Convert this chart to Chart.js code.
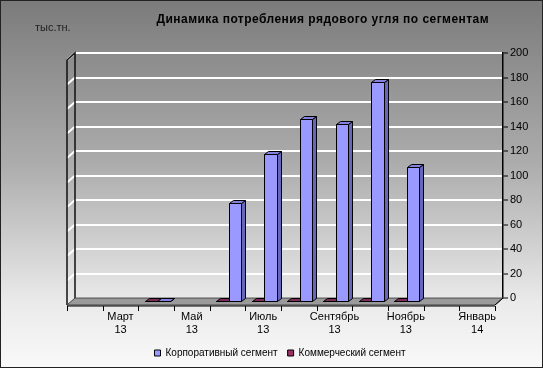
<!DOCTYPE html>
<html>
<head>
<meta charset="utf-8">
<script src="https://cdn.jsdelivr.net/npm/chart.js@4.4.1/dist/chart.umd.min.js"></script>
<style>
  html, body { margin: 0; padding: 0; background: #fff; }
  #wrap { width: 543px; height: 368px; }
</style>
</head>
<body>
<div id="wrap"><canvas id="chart"></canvas></div>
<script>
const months = [
  'Февраль 13', 'Март 13', 'Апрель 13', 'Май 13', 'Июнь 13', 'Июль 13',
  'Август 13', 'Сентябрь 13', 'Октябрь 13', 'Ноябрь 13', 'Декабрь 13', 'Январь 14',
];
const corporate = [null, null, 0.8, null, 81, 121, 149, 145, 180, 110, null, null];
const commercial = [null, null, 0.5, null, 0.5, 0.5, 0.5, 0.5, 0.5, 0.5, null, null];
const yTicks = { min: 0, max: 200, step: 20 };

const chartTitle = 'Динамика потребления рядового угля по сегментам';
const unitLabel = 'тыс.тн.';

// wall depth, bar depth and bar position inside the depth (fake 3d look)
const DX = 8, DY = 7;
const BX = 4, BY = 3;
const OX = -7, OY = 4;

const faces = [
  { front: '#993366', side: '#6a2346', top: '#7e2b55' },
  { front: '#9999ff', side: '#6767b9', top: '#8282de' },
];

const background = {
  id: 'background',
  beforeDraw(chart) {
    const { ctx, width, height } = chart;
    const g = ctx.createLinearGradient(0, 0, 0, height);
    g.addColorStop(0, '#7b7b7b');
    g.addColorStop(0.45, '#adadad');
    g.addColorStop(0.82, '#eaeaea');
    g.addColorStop(1, '#f9f9f9');
    ctx.save();
    ctx.fillStyle = g;
    ctx.fillRect(0, 0, width, height);
    ctx.restore();
  },
  afterDraw(chart) {
    const { ctx, width, height } = chart;
    ctx.save();
    ctx.strokeStyle = '#222';
    ctx.lineWidth = 1;
    ctx.strokeRect(0.5, 0.5, width - 1, height - 1);
    ctx.fillStyle = '#000';
    ctx.font = 'bold 12px "Liberation Sans", Arial, sans-serif';
    ctx.letterSpacing = '0.45px';
    ctx.textAlign = 'right';
    ctx.textBaseline = 'middle';
    ctx.fillText(chartTitle, 489, 20);
    ctx.letterSpacing = '0px';
    ctx.font = '11px "Liberation Sans", Arial, sans-serif';
    ctx.textAlign = 'left';
    ctx.fillStyle = '#222';
    ctx.fillText(unitLabel, 35, 28);
    ctx.restore();
  },
};

const frame3d = {
  id: 'frame3d',
  beforeDatasetsDraw(chart) {
    const { ctx, chartArea: ca } = chart;
    const xs = chart.scales.x;
    const ys = chart.scales.y;
    ctx.save();

    // side wall grid lines
    ctx.strokeStyle = '#ffffff';
    ctx.lineWidth = 2;
    for (let v = yTicks.min + yTicks.step; v <= yTicks.max; v += yTicks.step) {
      const y = ys.getPixelForValue(v);
      ctx.beginPath();
      ctx.moveTo(ca.left, y);
      ctx.lineTo(ca.left - DX, y + DY);
      ctx.stroke();
    }

    // side wall edges
    ctx.lineWidth = 1.5;
    ctx.strokeStyle = '#111';
    ctx.beginPath();
    ctx.moveTo(ca.left, ca.bottom);
    ctx.lineTo(ca.left, ca.top);
    ctx.lineTo(ca.left - DX, ca.top + DY);
    ctx.lineTo(ca.left - DX, ca.bottom + DY);
    ctx.stroke();

    // floor
    ctx.beginPath();
    ctx.moveTo(ca.left, ca.bottom);
    ctx.lineTo(ca.right, ca.bottom);
    ctx.lineTo(ca.right - DX, ca.bottom + DY);
    ctx.lineTo(ca.left - DX, ca.bottom + DY);
    ctx.closePath();
    ctx.fillStyle = '#9a9a9a';
    ctx.fill();
    ctx.lineWidth = 1;
    ctx.strokeStyle = '#444';
    ctx.stroke();

    // front axis line with category ticks
    const n = months.length;
    const w = xs.width / n;
    const fy = ca.bottom + DY + 1;
    ctx.strokeStyle = '#000';
    ctx.beginPath();
    ctx.moveTo(ca.left - DX, fy);
    ctx.lineTo(ca.right - DX, fy);
    for (let i = 0; i <= n; i++) {
      const x = Math.round(xs.getPixelForValue(0) - w / 2 + i * w - DX) + 0.5;
      ctx.moveTo(x, fy);
      ctx.lineTo(x, fy + 5);
    }
    ctx.moveTo(ca.right, ca.bottom);
    ctx.lineTo(ca.right - DX, ca.bottom + DY);
    ctx.stroke();
    ctx.restore();
  },
  // bars are painted below as boxes, so skip the flat ones
  beforeDatasetDraw() {
    return false;
  },
  afterDatasetsDraw(chart) {
    const { ctx } = chart;
    const metas = [chart.getDatasetMeta(0), chart.getDatasetMeta(1)];
    ctx.save();
    ctx.lineWidth = 1;
    ctx.strokeStyle = '#000';
    ctx.lineJoin = 'round';
    const poly = (pts, fill) => {
      ctx.beginPath();
      ctx.moveTo(pts[0][0], pts[0][1]);
      for (let k = 1; k < pts.length; k++) ctx.lineTo(pts[k][0], pts[k][1]);
      ctx.closePath();
      ctx.fillStyle = fill;
      ctx.fill();
      ctx.stroke();
    };
    for (let i = 0; i < months.length; i++) {
      metas.forEach((meta, d) => {
        const raw = chart.data.datasets[d].data[i];
        if (raw === null) return;
        const el = meta.data[i];
        const p = el.getProps(['x', 'y', 'base', 'width'], true);
        const l = Math.round(p.x - p.width / 2 + OX) + 0.5;
        const r = Math.round(p.x + p.width / 2 + OX) + 0.5;
        const y = Math.round(p.y + OY) + 0.5;
        const base = Math.round(p.base + OY) + 0.5;
        const c = faces[d];
        poly([[r, y], [r + BX, y - BY], [r + BX, base - BY], [r, base]], c.side);
        poly([[l, y], [l + BX, y - BY], [r + BX, y - BY], [r, y]], c.top);
        poly([[l, y], [r, y], [r, base], [l, base]], c.front);
      });
    }
    ctx.restore();
  },
};

new Chart(document.getElementById('chart'), {
  type: 'bar',
  data: {
    labels: months,
    datasets: [
      {
        label: 'Коммерческий сегмент',
        data: commercial,
        backgroundColor: faces[0].front,
        borderColor: '#000',
        borderWidth: 1,
      },
      {
        label: 'Корпоративный сегмент',
        data: corporate,
        backgroundColor: faces[1].front,
        borderColor: '#000',
        borderWidth: 1,
      },
    ],
  },
  options: {
    responsive: true,
    maintainAspectRatio: false,
    animation: false,
    layout: { padding: { left: 25, right: 8, top: 53, bottom: 0 } },
    datasets: { bar: { categoryPercentage: 0.7, barPercentage: 1 } },
    scales: {
      x: {
        grid: { display: false },
        border: { display: false },
        ticks: {
          autoSkip: false,
          maxRotation: 0,
          labelOffset: -DX,
          padding: 4,
          color: '#000',
          font: { family: '"Liberation Sans", Arial, sans-serif', size: 11 },
          callback: (value, index) => (index % 2 === 1 ? months[index].split(' ') : ''),
        },
        afterFit: (scale) => { scale.height = 40; },
      },
      y: {
        position: 'right',
        min: yTicks.min,
        max: yTicks.max,
        grid: { color: '#ffffff', lineWidth: 2, tickColor: '#000', tickLength: 5, tickWidth: 1 },
        border: { color: '#000', width: 1.5 },
        ticks: {
          stepSize: yTicks.step,
          padding: 2,
          color: '#000',
          font: { family: '"Liberation Sans", Arial, sans-serif', size: 11 },
        },
        afterFit: (scale) => { scale.width = 32; },
      },
      // empty left axis, only reserves room so the legend sits where it should
      spacer: {
        position: 'left',
        display: true,
        grid: { display: false },
        border: { display: false },
        ticks: { display: false },
        afterFit: (scale) => { scale.width = 50; },
      },
    },
    plugins: {
      legend: {
        position: 'bottom',
        reverse: true,
        labels: {
          boxWidth: 6,
          boxHeight: 6,
          padding: 10,
          color: '#000',
          font: { family: '"Liberation Sans", Arial, sans-serif', size: 10 },
        },
      },
      tooltip: { enabled: false },
    },
  },
  plugins: [background, frame3d],
});
</script>
</body>
</html>
